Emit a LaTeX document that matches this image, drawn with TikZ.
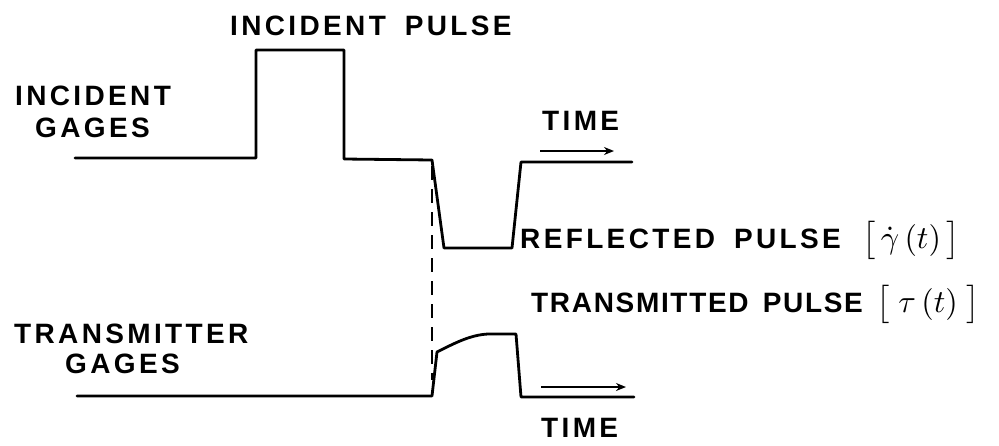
\documentclass[tikz,border=0pt]{standalone}
\usepackage{fontspec}
\usepackage{graphicx}
\setmainfont{Liberation Sans}
\newfontfamily\labfont[LetterSpace=12,WordSpace=1.7]{Liberation Sans Bold}
\newfontfamily\labfontn[LetterSpace=6,WordSpace=1.5]{Liberation Sans Bold}
\usetikzlibrary{arrows.meta}
\newcommand{\bigmath}[1]{{\fontsize{10}{10}\selectfont\scalebox{3.2}{$#1$}}}
\tikzset{
  sig/.style={line width=2.8pt, line join=round, line cap=round},
  lab/.style={inner sep=0pt, font=\labfont\fontsize{28}{28}\selectfont},
  labn/.style={inner sep=0pt, font=\labfontn\fontsize{28}{28}\selectfont},
  timearrow/.style={line width=2.4pt, -{Stealth[length=10pt,width=8pt]}},
  guide/.style={line width=2pt, dash pattern=on 14pt off 9pt}
}
\begin{document}
\begin{tikzpicture}[x=1pt,y=-1pt]
\useasboundingbox (0,0) rectangle (999,445);
% incident gage signal
\coordinate (i0) at (75,158);
\coordinate (i1) at (256,158);
\coordinate (i2) at (256,50);
\coordinate (i3) at (344,50);
\coordinate (i4) at (344,159);
\coordinate (i5) at (432,160);
\coordinate (i6) at (444,248);
\coordinate (i7) at (512,248);
\coordinate (i8) at (521,162);
\coordinate (i9) at (632,162);
\draw[sig] (i0) -- (i1) -- (i2) -- (i3) -- (i4) -- (i5) -- (i6) -- (i7) -- (i8) -- (i9);
% transmitter gage signal
\coordinate (t0) at (77,396);
\coordinate (t1) at (432,396);
\coordinate (t2) at (437,352);
\coordinate (t3) at (488,334);
\coordinate (t4) at (516,334);
\coordinate (t5) at (521,397);
\coordinate (t6) at (634,397);
\draw[sig] (t0) -- (t1) -- (t2) .. controls (455,343) and (470,335) .. (t3) -- (t4) -- (t5) -- (t6);
% dashed guide
\coordinate (d0) at (432,166);
\coordinate (d1) at (432,380);
\draw[guide] (d0) -- (d1);
% time arrows
\coordinate (a0) at (540,151);
\coordinate (a1) at (614,151);
\draw[timearrow] (a0) -- (a1);
\coordinate (b0) at (541,387);
\coordinate (b1) at (626,387);
\draw[timearrow] (b0) -- (b1);
% labels
\node[lab, anchor=base west] (ip) at (230,35) {INCIDENT PULSE};
\node[lab, anchor=base west] (ig1) at (15,105) {INCIDENT};
\node[lab, anchor=base west] (ig2) at (35,137) {GAGES};
\node[lab, anchor=base west] (tm1) at (542,130) {TIME};
\node[lab, anchor=base west] (rp) at (520,248) {REFLECTED PULSE};
\node[inner sep=0pt, anchor=base west] (rpm) at (862,248) {\bigmath{\bigl[\,\dot{\gamma}\,(t)\,\bigr]}};
\node[labn, anchor=base west] (tp) at (531,312) {TRANSMITTED PULSE};
\node[inner sep=0pt, anchor=base west] (tpm) at (876,312) {\bigmath{\bigl[\;\tau\,(t)\;\bigr]}};
\node[lab, anchor=base west] (tg1) at (14,343) {TRANSMITTER};
\node[lab, anchor=base west] (tg2) at (65,373) {GAGES};
\node[lab, anchor=base west] (tm2) at (541,437) {TIME};
\end{tikzpicture}
\end{document}
